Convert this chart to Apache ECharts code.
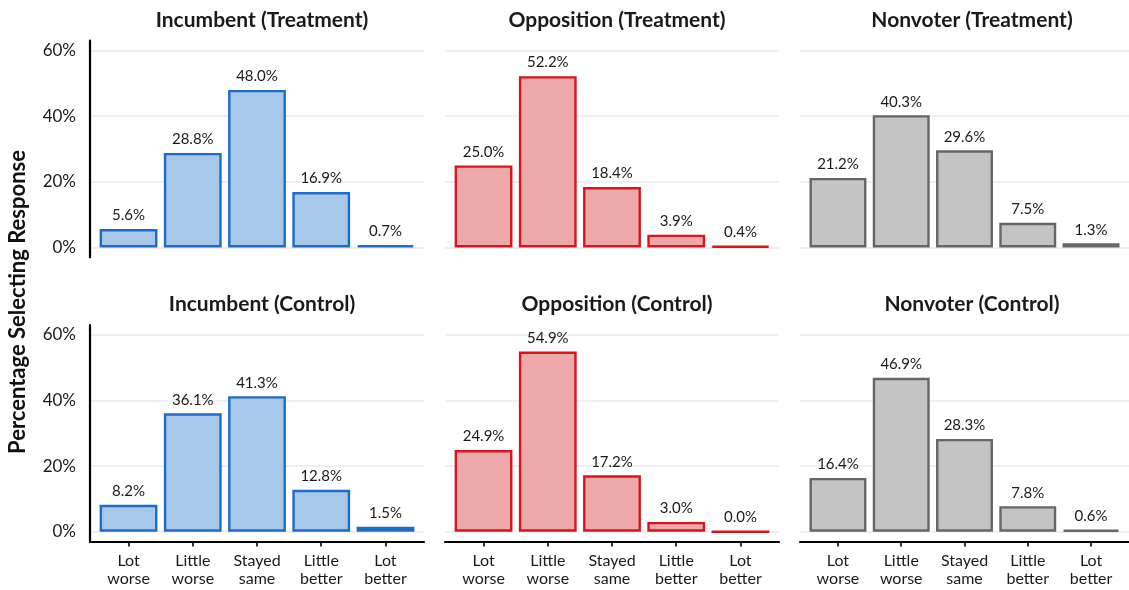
<!DOCTYPE html>
<html>
<head>
<meta charset="utf-8">
<script src="https://cdn.jsdelivr.net/npm/echarts@6/dist/echarts.min.js"></script>
<style>
html,body{margin:0;padding:0;background:#fff;}
#chart{width:1129px;height:590px;}
</style>
</head>
<body>
<div id="chart"></div>
<script>
const categories = ['Lot\nworse', 'Little\nworse', 'Stayed\nsame', 'Little\nbetter', 'Lot\nbetter'];
const yTicks = [0, 20, 40, 60];
const panelTitles = [
  'Incumbent (Treatment)', 'Opposition (Treatment)', 'Nonvoter (Treatment)',
  'Incumbent (Control)', 'Opposition (Control)', 'Nonvoter (Control)'
];
const incumbentTreatment = [5.6, 28.8, 48.0, 16.9, 0.7];
const oppositionTreatment = [25.0, 52.2, 18.4, 3.9, 0.4];
const nonvoterTreatment = [21.2, 40.3, 29.6, 7.5, 1.3];
const incumbentControl = [8.2, 36.1, 41.3, 12.8, 1.5];
const oppositionControl = [24.9, 54.9, 17.2, 3.0, 0.0];
const nonvoterControl = [16.4, 46.9, 28.3, 7.8, 0.6];
const yTitle = 'Percentage Selecting Response';

const panelValues = [incumbentTreatment, oppositionTreatment, nonvoterTreatment,
                     incumbentControl, oppositionControl, nonvoterControl];
const palette = [
  {fill: '#a8c8ea', stroke: '#1c6cc8'},
  {fill: '#eda8a9', stroke: '#d8141c'},
  {fill: '#c4c4c4', stroke: '#666666'}
];

const FONT = 'Lato, "Open Sans", sans-serif';
const lefts = [90, 445, 800];
const tops = [40.7, 325];
const W = 334, H = 216.6;

const grids = [], xAxes = [], yAxes = [], series = [], titles = [];
panelValues.forEach((vals, p) => {
  const row = Math.floor(p / 3), col = p % 3;
  grids.push({left: lefts[col], top: tops[row], width: W, height: H, containLabel: false});
  const tickVals = categories.map((c, i) => i + 1);
  xAxes.push({
    type: 'value', gridIndex: p, min: 0.4, max: 5.6,
    splitLine: {show: false},
    axisLine: {show: row === 1, onZero: false, lineStyle: {color: '#000', width: 2.2}},
    axisTick: {show: row === 1, customValues: tickVals, length: 5, lineStyle: {color: '#000', width: 1.6}},
    axisLabel: {show: row === 1, customValues: tickVals, margin: 10,
      formatter: v => categories[Math.round(v) - 1] || '',
      fontFamily: FONT, fontSize: 16, color: '#1a1a1a', lineHeight: 18}
  });
  yAxes.push({
    type: 'value', gridIndex: p, min: -3, max: 63,
    axisLine: {show: col === 0, lineStyle: {color: '#000', width: 2.2}},
    axisTick: {show: false, customValues: yTicks},
    axisLabel: {show: col === 0, customValues: yTicks, margin: 14,
      formatter: v => v + '%', fontFamily: FONT, fontSize: 17, color: '#1a1a1a'},
    splitLine: {show: true, lineStyle: {color: '#ebebeb', width: 1.6}}
  });
  const c = palette[col];
  series.push({
    type: 'bar', xAxisIndex: p, yAxisIndex: p,
    data: vals.map((v, i) => [i + 1, v]),
    barWidth: '90%',
    itemStyle: {color: c.fill, borderColor: c.stroke, borderWidth: 2.4},
    label: {show: true, position: 'top', distance: 6,
      formatter: d => d.value[1].toFixed(1) + '%',
      fontFamily: FONT, fontSize: 15, color: '#1a1a1a'},
    silent: true, animation: false
  });
  titles.push({
    text: panelTitles[p], left: lefts[col] + W / 2, top: row === 0 ? 5 : 289,
    textAlign: 'center',
    textStyle: {fontFamily: FONT, fontSize: 21, fontWeight: 'bold', color: '#1a1a1a'}
  });
});

const chart = echarts.init(document.getElementById('chart'), null, {renderer: 'canvas'});
chart.setOption({
  animation: false,
  backgroundColor: '#fff',
  title: titles,
  grid: grids, xAxis: xAxes, yAxis: yAxes, series: series,
  graphic: [{
    type: 'text', x: 18, y: 302, rotation: Math.PI / 2,
    style: {text: yTitle, fontFamily: FONT, fontSize: 22, fontWeight: 'bold', fill: '#111',
      textAlign: 'center', textVerticalAlign: 'middle'}
  }]
});
</script>
</body>
</html>
